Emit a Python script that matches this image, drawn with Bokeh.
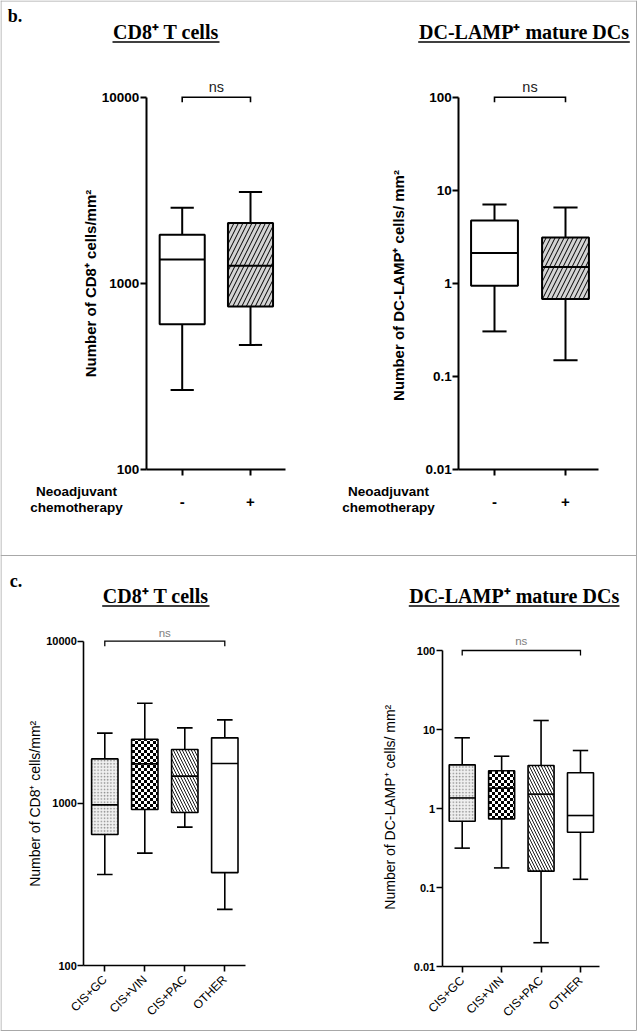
import math, zlib, struct, base64
from bokeh.plotting import figure
from bokeh.models import (ColumnDataSource, Range1d, LogScale, LogAxis, LinearAxis, FixedTicker,
                          CustomJSTickFormatter, Label, ImageURLTexture)
from bokeh.transform import dodge
from bokeh.embed import file_html
from bokeh.resources import INLINE

# ---------------- data ----------------
b_groups = ["-", "+"]
b_cd8_low = [268, 468]
b_cd8_q1 = [605, 752]
b_cd8_med = [1346, 1245]
b_cd8_q3 = [1828, 2110]
b_cd8_high = [2553, 3100]

b_dc_low = [0.306, 0.150]
b_dc_q1 = [0.946, 0.68]
b_dc_med = [2.12, 1.50]
b_dc_q3 = [4.75, 3.12]
b_dc_high = [7.06, 6.56]

c_groups = ["CIS+GC", "CIS+VIN", "CIS+PAC", "OTHER"]
c_cd8_low = [364, 493, 713, 222]
c_cd8_q1 = [643, 916, 878, 374]
c_cd8_med = [979, 1752, 1471, 1761]
c_cd8_q3 = [1880, 2487, 2148, 2535]
c_cd8_high = [2710, 4145, 2922, 3273]

c_dc_low = [0.315, 0.177, 0.020, 0.127]
c_dc_q1 = [0.69, 0.74, 0.161, 0.50]
c_dc_med = [1.36, 1.81, 1.52, 0.815]
c_dc_q3 = [3.57, 3.0, 3.5, 2.83]
c_dc_high = [7.85, 4.59, 13.0, 5.42]

cd8_ticks = [100, 1000, 10000]
dc_ticks = [0.01, 0.1, 1, 10, 100]

title_cd8 = "CD8\u207a T cells"
title_dc = "DC-LAMP\u207a mature DCs"
ylab_cd8 = "Number of CD8\u207a cells/mm\u00b2"
ylab_dc = "Number of DC-LAMP\u207a cells/ mm\u00b2"
row_label = ["Neoadjuvant", "chemotherapy"]

SANS = "Liberation Sans"
SERIF = "Liberation Serif"
W, H = 640, 1032


def checker_png(n=3):
    size = 2 * n
    raw = b""
    for y in range(size):
        raw += b"\x00"
        for x in range(size):
            dark = ((x // n) + (y // n)) % 2 == 0
            raw += bytes([0, 0, 0, 255]) if dark else bytes([255, 255, 255, 255])

    def chunk(t, d):
        return struct.pack(">I", len(d)) + t + d + struct.pack(">I", zlib.crc32(t + d) & 0xffffffff)

    ihdr = struct.pack(">IIBBBBB", size, size, 8, 6, 0, 0, 0)
    png = b"\x89PNG\r\n\x1a\n" + chunk(b"IHDR", ihdr) + chunk(b"IDAT", zlib.compress(raw)) + chunk(b"IEND", b"")
    return "data:image/png;base64," + base64.b64encode(png).decode()


checker = ImageURLTexture(url=checker_png(3))

b_style = dict(fill=["white", "#d4d4d4"], hatch=[" ", "/"], hcolor=["black", "black"],
               hscale=[9, 9], hweight=[1.0, 1.0])
c_style = dict(fill=["#f0f0f0", "white", "white", "white"], hatch=[".", "chk", "\\", " "],
               hcolor=["#8a8a8a", "black", "black", "black"],
               hscale=[3.2, 6, 6, 6], hweight=[0.9, 1, 0.9, 1])

p = figure(width=W, height=H, x_range=Range1d(0, W), y_range=Range1d(H, 0),
           x_axis_location=None, y_axis_location=None, min_border=0,
           toolbar_location=None, output_backend="svg", title=None)
p.grid.visible = False
p.outline_line_color = None
p.background_fill_color = "white"
p.border_fill_color = "white"


def panel(name, groups, low, q1, med, q3, high, style, yticks,
          c0, step, axis_px, right_px, ybot_px, decade_px, lw, cap, big):
    n = len(groups)
    xs = list(range(1, n + 1))

    def x_at(px):
        return 1 + (px - c0) / step

    y0 = yticks[0]
    p.extra_x_ranges = {**p.extra_x_ranges, name: Range1d(x_at(0), x_at(W))}
    p.extra_y_ranges = {**p.extra_y_ranges,
                        name: Range1d(y0 * 10 ** ((ybot_px - H) / decade_px), y0 * 10 ** (ybot_px / decade_px))}
    p.extra_y_scales = {**p.extra_y_scales, name: LogScale()}
    kw = dict(x_range_name=name, y_range_name=name)

    src = ColumnDataSource(dict(x=xs, low=low, q1=q1, med=med, q3=q3, high=high, **style))
    p.segment(x0="x", x1="x", y0="q3", y1="high", source=src, line_color="black", line_width=lw, **kw)
    p.segment(x0="x", x1="x", y0="low", y1="q1", source=src, line_color="black", line_width=lw, **kw)
    p.segment(x0=dodge("x", -cap / 2), x1=dodge("x", cap / 2), y0="high", y1="high", source=src,
              line_color="black", line_width=lw, **kw)
    p.segment(x0=dodge("x", -cap / 2), x1=dodge("x", cap / 2), y0="low", y1="low", source=src,
              line_color="black", line_width=lw, **kw)
    p.vbar(x="x", width=0.66, bottom="q1", top="q3", source=src, fill_color="fill",
           line_color="black", line_width=lw, hatch_pattern="hatch", hatch_color="hcolor",
           hatch_scale="hscale", hatch_weight="hweight", hatch_extra={"chk": checker}, **kw)
    p.segment(x0=dodge("x", -0.33), x1=dodge("x", 0.33), y0="med", y1="med", source=src,
              line_color="black", line_width=lw, **kw)

    # significance bracket
    top = yticks[-1]
    drop = top * 10 ** (-5 / decade_px)
    p.line(x=[xs[0], xs[0], xs[-1], xs[-1]], y=[drop, top, top, drop], line_color="black",
           line_width=lw * 0.8, line_join="miter", **kw)

    ya = LogAxis(fixed_location=x_at(axis_px), bounds=(yticks[0], yticks[-1]),
                 ticker=FixedTicker(ticks=yticks),
                 formatter=CustomJSTickFormatter(code="return tick.toString();"), **kw)
    xa = LinearAxis(fixed_location=y0, bounds=(x_at(axis_px), x_at(right_px)),
                    ticker=FixedTicker(ticks=xs),
                    formatter=CustomJSTickFormatter(args=dict(labels=groups),
                                                    code="return labels[Math.round(tick) - 1];"), **kw)
    for a in (xa, ya):
        a.axis_line_width = lw
        a.axis_line_color = "black"
        a.major_tick_line_width = lw
        a.major_tick_line_color = "black"
        a.major_tick_out = 6
        a.major_tick_in = 0
        a.minor_tick_line_color = None
        a.major_label_text_font = SANS
        a.major_label_text_color = "black"
    ya.major_label_standoff = 1
    if big:
        ya.major_label_text_font_size = "13.5px"
        ya.major_label_text_font_style = "bold"
        xa.major_label_text_font_size = "15px"
        xa.major_label_text_font_style = "bold"
        xa.major_label_standoff = 21
    else:
        ya.major_label_text_font_size = "11px"
        ya.major_label_text_font_style = "bold"
        xa.major_label_text_font_size = "12px"
        xa.major_label_text_font_style = "normal"
        xa.major_label_orientation = math.pi / 4
        xa.major_label_standoff = 6
    p.add_layout(ya, "left")
    p.add_layout(xa, "below")


def label(text, x, y, size, font=SANS, style="bold", align="left", color="black", angle=0.0):
    p.add_layout(Label(x=x, y=y, text=text, text_font=font, text_font_size=f"{size}px",
                       text_font_style=style, text_align=align, text_baseline="middle",
                       text_color=color, angle=angle))


def rule(x0, x1, y0, y1, color="black", width=1.5):
    p.segment(x0=[x0], x1=[x1], y0=[y0], y1=[y1], line_color=color, line_width=width)


# frame / separators
for args in [(0, 636, 0.5, 0.5), (0.5, 0.5, 0, 1030), (636, 636, 0, 1030),
             (0, 636, 1030, 1030), (0, 636, 555, 555)]:
    rule(*args, color="#a8a8a8", width=1)

# ---------------- panel b ----------------
panel("bl", b_groups, b_cd8_low, b_cd8_q1, b_cd8_med, b_cd8_q3, b_cd8_high, b_style, cd8_ticks,
      181.7, 68.3, 145.7, 285, 469.3, 186.3, 2, 0.34, True)
panel("br", b_groups, b_dc_low, b_dc_q1, b_dc_med, b_dc_q3, b_dc_high, b_style, dc_ticks,
      494, 71, 458.3, 598, 469.3, 93.15, 2, 0.34, True)

label("b.", 7.3, 15.8, 18, font=SERIF)
label(title_cd8, 165.5, 31.9, 20, font=SERIF, align="center")
rule(112, 219, 41.5, 41.5)
label(title_dc, 523.5, 31.9, 20, font=SERIF, align="center")
rule(417.7, 629.3, 41.5, 41.5)
label("ns", 215.8, 86.2, 14.5, style="normal", align="center", color="#222222")
label("ns", 529.5, 86.2, 14.5, style="normal", align="center", color="#222222")
label(ylab_cd8, 90, 283, 15, align="center", angle=math.pi / 2)
label(ylab_dc, 398.3, 285, 15, align="center", angle=math.pi / 2)
for cx in (76, 388):
    label(row_label[0], cx, 491.4, 13.5, align="center")
    label(row_label[1], cx, 507.4, 13.5, align="center")

# ---------------- panel c ----------------
panel("cl", c_groups, c_cd8_low, c_cd8_q1, c_cd8_med, c_cd8_q3, c_cd8_high, c_style, cd8_ticks,
      104.3, 40, 83.3, 245, 965, 162.15, 1.6, 0.39, False)
panel("cr", c_groups, c_dc_low, c_dc_q1, c_dc_med, c_dc_q3, c_dc_high, c_style, dc_ticks,
      461.7, 39.43, 441.7, 599, 966, 79.0, 1.6, 0.39, False)

label("c.", 9.3, 580.9, 18, font=SERIF)
label(title_cd8, 155.3, 595.3, 20, font=SERIF, align="center")
rule(101.7, 209, 605.5, 605.5)
label(title_dc, 513.7, 595.3, 20, font=SERIF, align="center")
rule(408.3, 619, 605.5, 605.5)
label("ns", 164.3, 632.3, 11.5, style="normal", align="center", color="#808080")
label("ns", 520.8, 640.8, 11.5, style="normal", align="center", color="#808080")
label(ylab_cd8, 34.2, 803.3, 14, style="normal", align="center", angle=math.pi / 2)
label(ylab_dc, 389.2, 806.7, 14, style="normal", align="center", angle=math.pi / 2)

open("out.html", "w").write(file_html(p, INLINE))
